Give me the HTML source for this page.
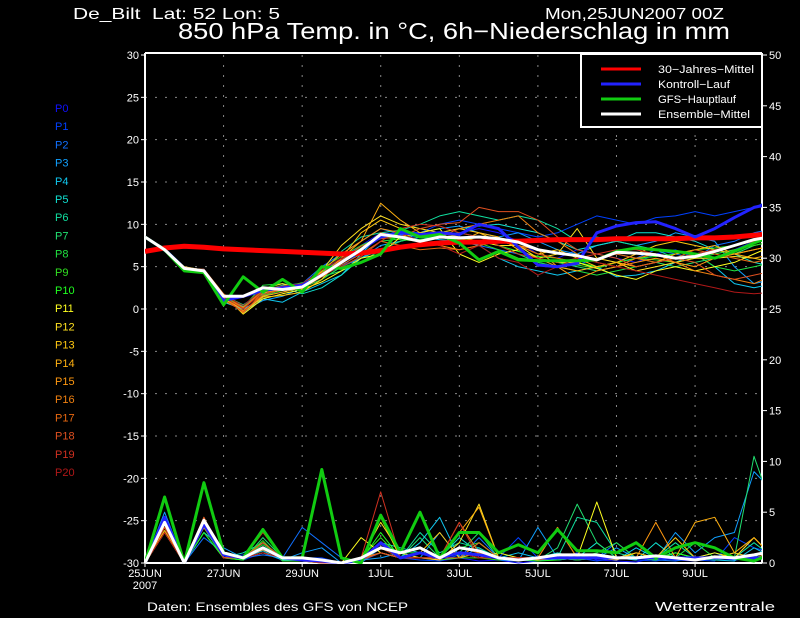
<!DOCTYPE html>
<html><head><meta charset="utf-8">
<style>
html,body{margin:0;padding:0;background:#000;}
svg{display:block;font-family:"Liberation Sans",sans-serif;}
</style></head>
<body>
<svg id="chart" width="800" height="618" viewBox="0 0 800 618">
<rect width="800" height="618" fill="#000"/>
<defs><clipPath id="pc"><rect x="145" y="53" width="617" height="511"/></clipPath></defs>
<text x="73" y="19" fill="#fff" font-size="16" textLength="207" lengthAdjust="spacingAndGlyphs">De_Bilt&#160;&#160;Lat: 52 Lon: 5</text>
<text x="545" y="19" fill="#fff" font-size="16" textLength="179" lengthAdjust="spacingAndGlyphs">Mon,25JUN2007 00Z</text>
<text x="178" y="39" fill="#fff" font-size="23" textLength="552" lengthAdjust="spacingAndGlyphs">850 hPa Temp. in °C, 6h−Niederschlag in mm</text>
<g id="grid"></g>
<g id="axes"></g>
<g id="members-labels"></g>
<g id="series" clip-path="url(#pc)"></g>
<g>
<rect x="581" y="54" width="181" height="73" fill="#000" stroke="#fff" stroke-width="2"/>
<line x1="601" y1="69" x2="641" y2="69" stroke="#f00" stroke-width="3"/>
<line x1="601" y1="84" x2="641" y2="84" stroke="#22f" stroke-width="3"/>
<line x1="601" y1="99" x2="641" y2="99" stroke="#1c1" stroke-width="3"/>
<line x1="601" y1="114" x2="641" y2="114" stroke="#fff" stroke-width="3"/>
<text x="658" y="73" fill="#fff" font-size="11" textLength="96" lengthAdjust="spacingAndGlyphs">30−Jahres−Mittel</text>
<text x="658" y="88" fill="#fff" font-size="11" textLength="72" lengthAdjust="spacingAndGlyphs">Kontroll−Lauf</text>
<text x="658" y="103" fill="#fff" font-size="11" textLength="78" lengthAdjust="spacingAndGlyphs">GFS−Hauptlauf</text>
<text x="658" y="118" fill="#fff" font-size="11" textLength="92" lengthAdjust="spacingAndGlyphs">Ensemble−Mittel</text>
</g>
<text x="147" y="611" fill="#fff" font-size="12" textLength="261" lengthAdjust="spacingAndGlyphs">Daten: Ensembles des GFS von NCEP</text>
<text x="655" y="611" fill="#fff" font-size="13" textLength="120" lengthAdjust="spacingAndGlyphs">Wetterzentrale</text>
</svg>
<script>
const dateLabels=["25JUN","27JUN","29JUN","1JUL","3JUL","5JUL","7JUL","9JUL"];
const leftTicks=[30,25,20,15,10,5,0,-5,-10,-15,-20,-25,-30];
const rightTicks=[50,45,40,35,30,25,20,15,10,5,0];
const climTemp=[6.8,7.2,7.4,7.3,7.1,7.0,6.9,6.8,6.7,6.6,6.5,6.6,6.9,7.3,7.6,7.8,7.9,7.9,8.0,8.0,8.1,8.2,8.2,8.2,8.3,8.3,8.3,8.3,8.4,8.4,8.5,8.7,8.9];
const meanTemp=[8.5,7,4.8,4.5,1.5,1.5,2.5,2.3,2.6,4,5.5,7,8.8,8.5,8,8.5,8.4,8.5,8.3,7.9,7,6.6,6.3,5.8,6.7,6.6,6.4,6,6.2,6.8,7.5,8.2,8.6];
const gfsTemp=[8.5,7,4.5,4.3,0.5,3.8,2,3.5,2,5,4.8,5.5,6.5,9.5,8.5,8.8,7.8,5.8,6.8,5.8,5.7,5.7,5.7,5.8,6.8,7.2,7,6.8,6.5,6,6.8,7.8,8.6];
const controlTemp=[8.5,7,4.7,4.5,1,1.5,2.2,2.5,2.8,4,5.5,7,8.5,9,8.8,9,8.8,10,9.5,7.3,5.2,5,5.4,9,9.8,10.2,10.3,9.5,8.5,9.5,10.8,12,12.5];
const memberTemp=[
[8.5,7.2,5,4.6,1.2,0.2,2.5,2.4,2.8,4.5,6,7.5,9,8.8,8.2,8.7,9,9.5,9,8,6.5,6,7,6.5,6,5.5,6.5,7,6,6.5,7,8,8.5],
[8.5,6.8,4.9,4.4,1.8,-0.5,1.5,2,2.6,4,5,6.8,8.5,9.2,9,10,10.5,10,9.5,9,8.5,9,10,11,10.5,10,10.8,11,11.5,11,11.5,12,13],
[8.5,7,4.7,4.7,1.5,0.5,2,2.8,3,5,6.5,8,9.5,8.8,8.5,9,8.5,7.5,7,6.5,5.5,5,5.2,6,6.5,6,7,6.5,6,7.5,8,9,9.5],
[8.5,7.1,5,4.5,1,-0.2,1,1.5,2.5,3.5,5,6,7.5,8,9,9.5,9.8,9,8.5,9,8,7,6.5,7.5,8,7.5,8,9,8.5,8,5,3,3.5],
[8.5,6.9,4.6,4.3,0.8,0,1.2,0.8,2,3,4,6.5,8.8,9,8.5,8.2,8,7.5,6,5,4.5,4,4.5,5,3.8,4,4.5,5.5,6.5,5,3,2.5,3],
[8.5,7,4.8,4.6,1.4,0.3,2.4,2.5,1.8,2.5,4,6,7,8,8.5,9,9.5,9.8,10,9.5,9,8,7,7.5,8,9,9,8.5,8,7,6.5,5.5,5],
[8.5,7.2,4.9,4.4,1.3,0,2.2,2.8,2.9,4.2,6.8,8.5,9,9.3,10,11,11.5,11,10.5,11,10.5,9.5,8,8.5,8,7.5,7,6,6.5,7,7.5,8,8.5],
[8.5,7,4.7,4.5,1.6,0.5,1.8,2.6,3.1,3.8,4.5,5.5,7,8,8.5,8.8,9,8.5,8,7.5,6,5.5,5,4.5,5,6,5.5,5,5.5,6,6.5,7.5,8],
[8.5,6.8,5,4.6,1.5,0.2,2.8,3,2.5,3.5,5,6.2,8,8.3,9,8.5,8,8.5,7.5,6.5,5.5,5,4.5,4,4.5,5,5.5,6,6.5,5,4.5,5,5.5],
[8.5,7.1,4.8,4.4,1.2,-0.3,1.6,2.2,2.7,4.8,6.2,7.5,8.5,8.2,8,8.5,8.2,7.8,7,6,5.8,5.5,5.2,4.8,5.5,6,5.8,5.5,6,6.5,7,7.5,8],
[8.5,7,4.9,4.5,1.4,0.1,2.1,2.4,2.6,4.4,5.8,7.2,8.6,8.4,8.2,8.6,8.3,8,7.5,6.8,6.2,6,5.5,5,5.5,6,6.2,6.5,7,7.2,7.5,8,8.5],
[8.5,7,4.8,4.5,1.7,-0.6,1.2,1.8,2.3,3.2,4.5,6,6.5,8.5,9,9.5,6.5,5.5,6.5,7,6,5.5,5.5,4.8,4,3.5,4.5,5,4.5,5,5.5,6.5,7.5],
[8.5,7.2,4.6,4.4,1.2,0,2.4,3,2.2,4.5,7.5,9.5,11,10,9.5,9,8.5,8,7.5,7.5,6,6.5,9.5,6,5.5,4.5,5,5.5,6,6,6.2,6,5.5],
[8.5,6.9,4.7,4.6,1.5,-0.4,1.4,1.6,2,3.5,6,9,10.5,9.5,8.5,9,9.5,9,8,7.5,6.5,7,6,5,5.5,6.5,7.5,8,7.5,7,6.5,7,7.5],
[8.5,7.1,4.8,4.3,1,-0.2,1.5,2,2.5,4,6,8,12.5,10.5,9,8.5,8,9,8.5,7,6,5,4.5,5,5.5,5,5.5,6.5,7,7.5,6.5,6,6.5],
[8.5,7,5,4.6,1.3,0.2,1.9,2.3,2.8,4.5,6.5,8,9.5,9,8,7.5,7,7.5,8,7.5,7,5,3.5,4.5,5,5.5,6,5.5,5,6,6.5,7,7.5],
[8.5,6.9,4.9,4.5,1.5,-0.5,2,2.5,2.8,4.3,5.5,7,9,8.5,8,8.5,9.5,10,10.5,11,9,8,6.5,5.5,5,6,6.5,5.5,4.5,4,3.5,3,4],
[8.5,7,4.8,4.7,1.8,0.1,2.2,2.6,2.4,3.8,5.2,6.5,8,7.5,7,7.2,7,7.5,8,7.5,6.5,6,5.5,6,6.5,6,5.5,6,7,6.5,6,5.5,6],
[8.5,7.1,4.7,4.4,1.1,-0.3,1.7,2.3,2.6,4.1,5.8,7.4,8.3,8.5,9.5,10,10.2,12,11.5,11.5,10.5,8.5,7,6.5,6,5,5.5,6,5.5,4,3.5,4,4.5],
[8.5,7,4.8,4.5,1.4,0,2,2.5,2.7,4.2,5,6.2,8,9.5,10,9.8,9,8.5,7.5,6.5,6,5.5,6,6.5,7,7,6.5,6,6.5,7,7.5,8,8.5],
[8.5,7,4.9,4.6,1.6,0.4,2.3,2.7,3,4.6,6,7,8.5,9,8,7.5,6.5,7.5,6,5.5,4,5,6,5.5,5,4.5,4,3.5,3,2.5,2,1.8,2]
];
const meanPrecip=[0,4,0,4.2,1,0.5,1.5,0.5,0.5,0.3,0,0.5,1.5,1,1.5,0.5,1.5,1.2,0.5,0.3,0.5,0.8,0.8,0.8,0.5,0.5,0.7,0.5,0.3,0.6,0.5,0.8,1.2];
const gfsPrecip=[0,6.5,0,7.9,1,0.5,3.3,0.5,0.5,9.2,0.5,0,4.7,1,5,0.5,3,3,1,1.8,1,3.3,1.2,1.2,1,2,0.5,1.5,2,1.5,0.5,0.2,1];
const controlPrecip=[0,4.5,0,3.8,0.8,0.5,1.5,0.5,0.3,0.2,0,0.3,2,0.5,1,0.5,1,0.8,0.5,0.3,0.5,0.5,0.5,0.5,0.5,0.5,0.5,0.5,0.5,0.5,0.5,0.5,0.5];
const memberPrecip=[
[0,3,0,3.5,0.5,0.3,1,0.3,0.2,0,0,0.3,2,0.5,1,0.2,0.5,0.2,0.3,0,0.2,0.5,1,0.3,0.2,0.1,0.5,0.3,0.2,0.5,0.3,0.5,1],
[0,4,0,3,0.5,0.8,1.5,0.2,0.5,0.5,0,0.2,1,0.5,0.3,0.2,0.8,1,0.5,2.5,0.5,0.3,0.5,0.2,0.5,0.3,0.2,0.5,0.3,0.2,2.5,1.5,1],
[0,4.5,0,2.5,1,0.5,0.8,0.5,3.5,2,0.5,0,1.5,0.5,0.5,0.3,0.5,2.5,0.5,0.3,0.2,0.5,0.3,0.5,2,0.5,0.3,0.2,0.5,1,0.3,0.5,0.2],
[0,5,0,3,1.5,0.5,1,0.3,1,1.5,0,0.3,0.5,1,0.5,3,0.5,1.5,0.3,0.2,3.5,0.5,0.3,0.5,1.5,0.5,0.3,3,1,2.5,3,9,7],
[0,3.5,0,3.5,0.5,0.5,1.2,0.3,0.3,0,0,0.5,1,0.5,2,4.5,0.5,2,0.5,1,0.5,0.3,0.5,0.5,0.3,1.5,0.5,1,0.5,0.3,0.2,1.5,0.5],
[0,4,0,4,0.5,1,2,0.5,0.3,0.2,0,0.5,2,1.5,1,0.5,2.5,1,0.5,0.3,0.5,1,0.5,2,0.5,0.3,2,0.5,0.3,0.5,1,0.5,2],
[0,3,0,3.5,0.5,0.5,1.5,0.5,0.2,0.1,0,0.3,1.5,0.5,3,1,2,1.5,0.5,0.5,0.5,0.5,4.5,4,1,0.5,0.5,2,0.5,0.5,0.5,2,0.5],
[0,4.5,0,3,0.5,0.3,2.5,0.5,0.5,0.3,0,0.2,1.5,0.5,2.5,0.5,1,3,0.5,0.5,0.3,1.5,5.8,2,0.5,0.5,0.3,1,0.5,0.3,0.5,10.5,5],
[0,3.5,0,3.5,0.5,0.5,1.8,0.5,0.5,0,0,0.5,2,1,1,0.5,1.5,2,0.5,0.3,0.5,0.5,0.5,1,2,0.5,0.5,0.5,2,0.5,0.5,0.5,0.5],
[0,3.8,0,3.8,0.8,0.5,2.2,0.2,0.2,0,0,0.5,2.5,0.5,1,0.3,0.5,0.5,0.3,0.5,0.5,0.5,0.3,0.5,0.5,0.5,0.5,1,0.5,0.5,0.5,0.5,1],
[0,4,0,3,0.5,0.3,1.5,0.5,0.3,0.2,0,0.3,3,0.5,0.5,0.5,1,0.5,0.5,0.3,0.2,0.3,0.5,0.5,0.5,0.5,0.3,1,0.5,0.5,0.5,0.5,1],
[0,3,0,4,0.5,0.5,2,0.5,0.5,0,0,2.5,1,0.5,0.5,0.5,1,0.5,1,0.5,0.5,0.5,0.5,6,0.5,0.5,0.5,0.5,0.5,1,0.5,0.5,0.5],
[0,3.5,0,3.5,1,0.5,1,0.5,0.3,0,0,0.5,4,1,0.5,0.3,2,5.8,0.5,0.5,0.5,0.5,0.5,0.5,0.5,1,0.5,0.5,0.5,0.5,0.5,2.5,0.5],
[0,3.2,0,3.8,0.5,0.5,1.5,0.5,0.5,0.3,0,0.3,4.5,0.5,1,3,0.5,1,0.5,0.5,0.5,0.5,0.5,0.5,0.3,1,0.5,2.5,0.5,0.5,1,0.5,0.5],
[0,3,0,4.5,0.5,0.5,1.3,0.5,0.5,0.2,0,0.3,1.5,0.5,0.5,0.5,3,5.5,0.5,0.5,0.5,3.5,0.5,0.5,0.5,0.5,0.5,0.5,4,4.5,1,2.5,0.5],
[0,3.8,0,4.2,0.5,0.5,1.5,0.5,0.5,0,0,0.5,2,0.5,1,0.3,1.5,1,0.5,0.5,0.3,0.5,0.5,0.5,0.5,0.5,4,0.5,0.5,0.5,0.5,0.5,0.5],
[0,3.5,0,3.5,0.8,0.5,1,0.5,0.5,0.3,0,0.5,1,0.5,0.5,0.5,4,1,0.5,0.5,0.5,3.5,0.5,0.5,0.5,0.5,0.5,0.5,0.5,0.5,0.5,0.5,1],
[0,3,0,4,0.5,0.5,1.5,0.5,0.2,0,0,0.3,1,0.5,0.5,0.5,0.5,2,0.5,0.5,0.5,0.5,0.5,0.5,0.5,0.5,0.5,0.5,0.5,0.5,0.5,0.5,0.5],
[0,4,0,4.5,0.5,0.5,2,0.5,0.5,0.3,0,0.3,1,0.5,0.5,0.5,1,0.5,0.5,0.5,0.5,0.5,0.5,0.5,0.5,0.5,0.5,0.5,0.5,0.5,0.5,0.5,0.5],
[0,3.5,0,3.8,0.5,0.5,3,0.5,0.3,0,0,0.5,7,0.5,1,0.5,4,0.5,0.5,0.5,0.5,0.5,0.5,0.5,0.5,0.5,0.5,0.5,0.5,0.5,0.5,0.5,0.5],
[0,3,0,4,1,0.5,1,0.5,0.5,0.3,0,0.5,1.5,0.5,0.5,0.5,1,0.5,0.5,0.5,0.5,0.5,0.5,0.5,0.5,0.5,0.5,0.5,0.5,0.5,0.5,0.5,0.5]
];
const memberColors=["#1010ff","#0040ff","#1070ff","#10a0ff","#10c8f0","#10e0d0","#10e0a0","#20e070","#20e040","#30e020","#20ff20","#ffff20","#ffe020","#ffc810","#ffb010","#ff9810","#f08010","#e86810","#e05020","#d03020","#b01818"];

const NS="http://www.w3.org/2000/svg";
const X0=145,X1=762,Y0=55,Y1=563,PXDAY=39.29;
const xDay=d=>X0+d*PXDAY;
const xIdx=i=>xDay(i*0.5);
const yT=v=>Y1-(v+30)*(Y1-Y0)/60;
const yP=v=>Y1-v*(Y1-Y0)/50;
function mk(tag,attrs,parent){const e=document.createElementNS(NS,tag);for(const k in attrs)e.setAttribute(k,attrs[k]);parent.appendChild(e);return e;}
const grid=document.getElementById('grid'),axes=document.getElementById('axes'),series=document.getElementById('series'),ml=document.getElementById('members-labels');

leftTicks.forEach(v=>{if(v===30||v===-30)return;const y=yT(v);
 const l=mk('line',{x1:X0,x2:X1,y1:y,y2:y,stroke:'#888','stroke-width':1,'stroke-dasharray':'2,8'},grid);
 
 });
dateLabels.forEach((t,i)=>{const x=xDay(i*2);
 if(i>0){const l=mk('line',{x1:x,x2:x,y1:Y0,y2:Y1,stroke:'#888','stroke-width':1,'stroke-dasharray':'2,8'},grid);
 
 }
 const tx=mk('text',{x:x,y:577,fill:'#fff','font-size':11,'text-anchor':'middle'},axes);tx.textContent=t;
 
 
 const tk=mk('line',{x1:x,x2:x,y1:Y1,y2:Y1+4,stroke:'#fff'},axes);
 
 });
const yr=mk('text',{x:145,y:589,fill:'#fff','font-size':11,'text-anchor':'middle'},axes);yr.textContent='2007';


[[X0,53,X0,Y1],[X1,53,X1,Y1],[X0,53,X1,53],[X0,Y1,X1,Y1]].forEach(a=>{const l=mk('line',{x1:a[0],y1:a[1],x2:a[2],y2:a[3],stroke:'#fff','stroke-width':2},axes);
 
 });
leftTicks.forEach(v=>{const y=yT(v);
 const t=mk('text',{x:139,y:y+4,fill:'#fff','font-size':11,'text-anchor':'end'},axes);t.textContent=v;
 
 
 const k=mk('line',{x1:X0-4,x2:X0,y1:y,y2:y,stroke:'#fff'},axes);
 
 });
rightTicks.forEach(v=>{const y=yP(v);
 const t=mk('text',{x:769,y:y+4,fill:'#fff','font-size':11},axes);t.textContent=v;
 
 
 const k=mk('line',{x1:X1,x2:X1+5,y1:y,y2:y,stroke:'#fff'},axes);
 
 });
memberColors.forEach((c,i)=>{const t=mk('text',{x:55,y:112+i*18.2,fill:c,'font-size':11},ml);t.textContent='P'+i;
 
 });
function line(vals,yf,color,w,name){const pts=vals.map((v,i)=>xIdx(i).toFixed(1)+','+yf(v).toFixed(1)).join(' ');
 const p=mk('polyline',{points:pts,fill:'none',stroke:color,'stroke-width':w,'stroke-linejoin':'round'},series);
 
 }
memberTemp.forEach((s,i)=>line(s,yT,memberColors[i],1,'temp-member-p'+i));
memberPrecip.forEach((s,i)=>line(s,yP,memberColors[i],1,'precip-member-p'+i));
line(climTemp,yT,'#f00',5,'temp-climatology');
line(controlTemp,yT,'#22f',3,'temp-control');
line(controlPrecip,yP,'#22f',3,'precip-control');
line(gfsTemp,yT,'#1c1',3,'temp-gfs');
line(gfsPrecip,yP,'#1c1',3,'precip-gfs');
line(meanTemp,yT,'#fff',3,'temp-ensemble-mean');
line(meanPrecip,yP,'#fff',3,'precip-ensemble-mean');
</script>
</body></html>
